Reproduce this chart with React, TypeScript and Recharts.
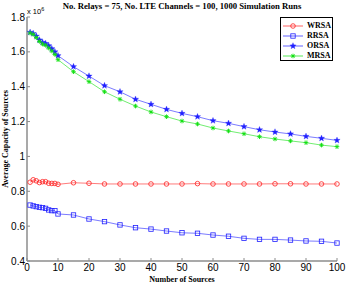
import React from "react";
import { LineChart, Line, XAxis, YAxis } from "recharts";

const sources = [1, 2, 3, 4, 5, 6, 7, 8, 9, 10, 15, 20, 25, 30, 35, 40, 45, 50, 55, 60, 65, 70, 75, 80, 85, 90, 95, 100];

const wrsa = [0.852, 0.866, 0.86, 0.85, 0.855, 0.855, 0.846, 0.845, 0.845, 0.84, 0.849, 0.846, 0.842, 0.842, 0.842, 0.842, 0.842, 0.842, 0.844, 0.842, 0.842, 0.842, 0.842, 0.843, 0.843, 0.842, 0.842, 0.842];
const rrsa = [0.721, 0.716, 0.712, 0.708, 0.706, 0.702, 0.693, 0.689, 0.689, 0.67, 0.664, 0.641, 0.626, 0.607, 0.591, 0.583, 0.572, 0.562, 0.559, 0.549, 0.542, 0.53, 0.524, 0.524, 0.52, 0.515, 0.513, 0.503];
const orsa = [1.712, 1.705, 1.69, 1.668, 1.655, 1.648, 1.635, 1.618, 1.6, 1.578, 1.515, 1.461, 1.406, 1.371, 1.328, 1.299, 1.27, 1.247, 1.228, 1.205, 1.19, 1.171, 1.153, 1.14, 1.129, 1.115, 1.104, 1.092];
const mrsa = [1.708, 1.7, 1.682, 1.66, 1.645, 1.638, 1.622, 1.605, 1.585, 1.555, 1.486, 1.429, 1.371, 1.328, 1.289, 1.255, 1.228, 1.203, 1.186, 1.163, 1.146, 1.13, 1.113, 1.1, 1.089, 1.079, 1.065, 1.056];

const xTicks = [0, 10, 20, 30, 40, 50, 60, 70, 80, 90, 100];
const yTicks = [0.4, 0.6, 0.8, 1.0, 1.2, 1.4, 1.6, 1.8];

const data = sources.map((s, i) => ({ s, WRSA: wrsa[i], RRSA: rrsa[i], ORSA: orsa[i], MRSA: mrsa[i] }));

const AXIS = "#8c8c8c";
const SERIF = "'Liberation Serif', 'Times New Roman', serif";
const SANS = "'Liberation Sans', Arial, sans-serif";

type Marker = "circle" | "square" | "star" | "asterisk";

function MarkerShape({ kind, cx, cy, color }: { kind: Marker; cx: number; cy: number; color: string }) {
  if (kind === "circle") {
    return <circle cx={cx} cy={cy} r={2.3} fill="none" stroke={color} strokeWidth={0.8} />;
  }
  if (kind === "square") {
    return <rect x={cx - 2.2} y={cy - 2.2} width={4.4} height={4.4} fill="none" stroke={color} strokeWidth={0.8} />;
  }
  if (kind === "star") {
    const pts: string[] = [];
    for (let k = 0; k < 10; k++) {
      const r = k % 2 === 0 ? 3.3 : 1.4;
      const a = -Math.PI / 2 + (k * Math.PI) / 5;
      pts.push(`${cx + r * Math.cos(a)},${cy + r * Math.sin(a)}`);
    }
    return <polygon points={pts.join(" ")} fill={color} stroke={color} strokeWidth={0.3} />;
  }
  const r = 2.3;
  return (
    <g stroke={color} strokeWidth={0.9}>
      <line x1={cx - r} y1={cy} x2={cx + r} y2={cy} />
      <line x1={cx} y1={cy - r} x2={cx} y2={cy + r} />
      <line x1={cx - r * 0.7} y1={cy - r * 0.7} x2={cx + r * 0.7} y2={cy + r * 0.7} />
      <line x1={cx - r * 0.7} y1={cy + r * 0.7} x2={cx + r * 0.7} y2={cy - r * 0.7} />
    </g>
  );
}

const series: { key: string; color: string; marker: Marker }[] = [
  { key: "WRSA", color: "#ff2020", marker: "circle" },
  { key: "RRSA", color: "#2020ff", marker: "square" },
  { key: "ORSA", color: "#2020ff", marker: "star" },
  { key: "MRSA", color: "#10e010", marker: "asterisk" },
];

const fmtY = (v: number) => String(Math.round(v * 10) / 10);

export default function App() {
  return (
    <div style={{ position: "absolute", left: 0, top: 0, width: 346, height: 285, background: "#fff" }}>
      <div
        style={{
          position: "absolute",
          left: 27,
          top: 1,
          width: 310,
          textAlign: "center",
          fontFamily: SERIF,
          fontWeight: "bold",
          fontSize: 8.7,
          lineHeight: "10px",
          whiteSpace: "nowrap",
        }}
      >
        No. Relays = 75, No. LTE Channels = 100, 1000 Simulation Runs
      </div>
      <div style={{ position: "absolute", left: 27, top: 4, fontFamily: SANS, fontSize: 7.5, lineHeight: "10px" }}>
        x 10<sup style={{ fontSize: 5.5, verticalAlign: "3px" }}>6</sup>
      </div>
      <LineChart width={346} height={285} data={data} margin={{ top: 17, right: 9, bottom: 0, left: 0 }}>
        <XAxis
          dataKey="s"
          type="number"
          domain={[0, 100]}
          ticks={xTicks}
          height={24}
          tickSize={-3}
          tickMargin={6}
          stroke={AXIS}
          strokeWidth={1.5}
          tick={{ fill: "#000", fontSize: 10, fontFamily: SANS }}
          tickLine={{ stroke: AXIS, strokeWidth: 1 }}
          label={{
            content: (p: any) => {
              const vb = p.viewBox;
              return (
                <text
                  x={vb.x + vb.width / 2}
                  y={vb.y + 21}
                  textAnchor="middle"
                  fontFamily={SERIF}
                  fontWeight="bold"
                  fontSize={8}
                  fill="#000"
                >
                  Number of Sources
                </text>
              );
            },
          }}
        />
        <XAxis
          xAxisId="top"
          orientation="top"
          dataKey="s"
          type="number"
          domain={[0, 100]}
          ticks={xTicks}
          height={0}
          tickSize={-3}
          tickFormatter={() => ""}
          stroke={AXIS}
          strokeWidth={1.5}
          tickLine={{ stroke: AXIS, strokeWidth: 1 }}
        />
        <YAxis
          type="number"
          domain={[0.4, 1.8]}
          ticks={yTicks}
          width={27}
          tickSize={-3}
          tickMargin={5}
          tickFormatter={fmtY}
          stroke={AXIS}
          strokeWidth={1.5}
          tick={{ fill: "#000", fontSize: 10, fontFamily: SANS }}
          tickLine={{ stroke: AXIS, strokeWidth: 1 }}
          label={{
            content: (p: any) => {
              const vb = p.viewBox;
              const cx = vb.x + 8;
              const cy = vb.y + vb.height / 2;
              return (
                <text
                  x={cx}
                  y={cy}
                  transform={`rotate(-90 ${cx} ${cy})`}
                  textAnchor="middle"
                  fontFamily={SERIF}
                  fontWeight="bold"
                  fontSize={8}
                  fill="#000"
                >
                  Average Capacity of Sources
                </text>
              );
            },
          }}
        />
        <YAxis
          yAxisId="right"
          orientation="right"
          type="number"
          domain={[0.4, 1.8]}
          ticks={yTicks}
          width={0}
          tickSize={-3}
          tickFormatter={() => ""}
          stroke={AXIS}
          strokeWidth={1.5}
          tickLine={{ stroke: AXIS, strokeWidth: 1 }}
        />
        {series.map((sr) => (
          <Line
            key={sr.key}
            dataKey={sr.key}
            stroke={sr.color}
            strokeWidth={0.7}
            strokeOpacity={0.85}
            isAnimationActive={false}
            activeDot={false}
            dot={(p: any) => (
              <MarkerShape key={`${sr.key}-${p.index}`} kind={sr.marker} cx={p.cx} cy={p.cy} color={sr.color} />
            )}
          />
        ))}
      </LineChart>
      <div
        style={{
          position: "absolute",
          left: 280,
          top: 17,
          width: 53,
          height: 44,
          border: "0.8px solid #000",
          background: "#fff",
          boxSizing: "border-box",
          paddingTop: 3,
        }}
      >
        {series.map((sr) => (
          <div key={sr.key} style={{ height: 10, display: "flex", alignItems: "center" }}>
            <svg width={24} height={10} style={{ display: "block" }}>
              <line x1={2} y1={5} x2={22} y2={5} stroke={sr.color} strokeWidth={0.7} />
              <MarkerShape kind={sr.marker} cx={12} cy={5} color={sr.color} />
            </svg>
            <span style={{ fontFamily: SERIF, fontWeight: "bold", fontSize: 8, lineHeight: "10px", marginLeft: 2 }}>
              {sr.key}
            </span>
          </div>
        ))}
      </div>
    </div>
  );
}
